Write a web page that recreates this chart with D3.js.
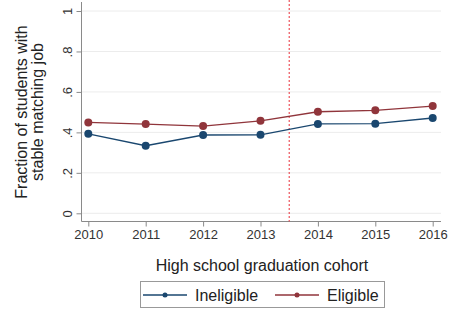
<!DOCTYPE html>
<html>
<head>
<meta charset="utf-8">
<script src="https://cdn.jsdelivr.net/npm/d3@7"></script>
<style>
  body { margin: 0; background: #fff; }
  svg { display: block; font-family: "Liberation Sans", Arial, sans-serif; }
  .grid line { stroke: #ececec; stroke-width: 1; }
  .axis path, .axis line { stroke: #8a8a8a; }
  .axis text { fill: #333; font-size: 13px; }
</style>
</head>
<body>
<svg width="451" height="309"></svg>
<script>
const years = [2010, 2011, 2012, 2013, 2014, 2015, 2016]
const ineligible = [0.393, 0.334, 0.387, 0.388, 0.442, 0.443, 0.471]
const eligible = [0.449, 0.441, 0.431, 0.457, 0.502, 0.509, 0.530]
const yTicks = [0, 0.2, 0.4, 0.6, 0.8, 1]
const cutoff = 2013.5

const series = [
  {id: "Ineligible", values: ineligible, color: "#1a476f"},
  {id: "Eligible", values: eligible, color: "#90353b"}
]

const svg = d3.select("svg")

const x = d3.scaleLinear().domain([2010, 2016]).range([88.3, 432.7]),
      y = d3.scaleLinear().domain([0, 1]).range([213.3, 11])

const plotLeft = 81.5, plotRight = 441, plotTop = 2, plotBottom = 221.5

// gridlines
svg.append("g").attr("class", "grid")
  .selectAll("line")
  .data(yTicks)
  .enter().append("line")
    .attr("x1", plotLeft).attr("x2", plotRight)
    .attr("y1", d => y(d)).attr("y2", d => y(d))

// y axis
const yAxis = svg.append("g")
  .attr("class", "axis")
  .attr("transform", "translate(" + plotLeft + ",0)")
  .call(d3.axisLeft(y).tickValues(yTicks).tickSize(5).tickSizeOuter(0)
    .tickFormat(d => d === 0 ? "0" : d === 1 ? "1" : d3.format(".1f")(d).replace(/^0/, "")))
yAxis.select(".domain").attr("d", "M0," + plotTop + "V" + plotBottom)
yAxis.selectAll("text")
  .attr("x", 0).attr("dy", 0)
  .attr("transform", "translate(-10,0) rotate(-90)")
  .style("text-anchor", "middle")

// x axis
const xAxis = svg.append("g")
  .attr("class", "axis")
  .attr("transform", "translate(0," + plotBottom + ")")
  .call(d3.axisBottom(x).tickValues(years).tickSize(5).tickSizeOuter(0).tickFormat(d3.format("")))
xAxis.select(".domain").remove()
svg.append("line")
  .attr("x1", plotLeft).attr("x2", plotRight)
  .attr("y1", plotBottom).attr("y2", plotBottom)
  .style("stroke", "#8a8a8a")
xAxis.selectAll("text").attr("y", 8)

// cutoff line
svg.append("line")
  .attr("x1", x(cutoff)).attr("x2", x(cutoff))
  .attr("y1", 0).attr("y2", plotBottom)
  .style("stroke", "#e8303a")
  .style("stroke-width", 1)
  .style("stroke-dasharray", "2,2")

const line = d3.line()
  .x((d, i) => x(years[i]))
  .y(d => y(d))

const groups = svg.selectAll(".series")
  .data(series)
  .enter().append("g")
    .attr("class", "series")

groups.append("path")
  .attr("d", d => line(d.values))
  .style("fill", "none")
  .style("stroke", d => d.color)
  .style("stroke-width", 1.3)

groups.selectAll("circle")
  .data(d => d.values.map((v, i) => ({v: v, year: years[i], color: d.color})))
  .enter().append("circle")
    .attr("cx", d => x(d.year))
    .attr("cy", d => y(d.v))
    .attr("r", 4)
    .style("fill", d => d.color)

// axis titles
svg.append("text")
  .attr("x", 262).attr("y", 271)
  .attr("text-anchor", "middle")
  .style("font-size", "16px").style("fill", "#222")
  .text("High school graduation cohort")

const yTitle = svg.append("text")
  .attr("transform", "translate(0,112) rotate(-90)")
  .attr("text-anchor", "middle")
  .style("font-size", "16px").style("fill", "#222")
yTitle.append("tspan").attr("x", 0).attr("y", 27).text("Fraction of students with")
yTitle.append("tspan").attr("x", 0).attr("y", 43).text("stable matching job")

// legend
svg.append("rect")
  .attr("x", 140.5).attr("y", 281.5)
  .attr("width", 244).attr("height", 26)
  .style("fill", "#fff").style("stroke", "#999")

const legendX = [143, 275]
const legend = svg.selectAll(".legend")
  .data(series)
  .enter().append("g")
    .attr("class", "legend")
    .attr("transform", (d, i) => "translate(" + legendX[i] + ",295)")

legend.append("line")
  .attr("x1", 0).attr("x2", 44)
  .style("stroke", d => d.color).style("stroke-width", 1.3)
legend.append("circle")
  .attr("cx", 22).attr("r", 2.5)
  .style("fill", d => d.color)
legend.append("text")
  .attr("x", 52).attr("y", 6)
  .style("font-size", "16px").style("fill", "#222")
  .text(d => d.id)
</script>
</body>
</html>
